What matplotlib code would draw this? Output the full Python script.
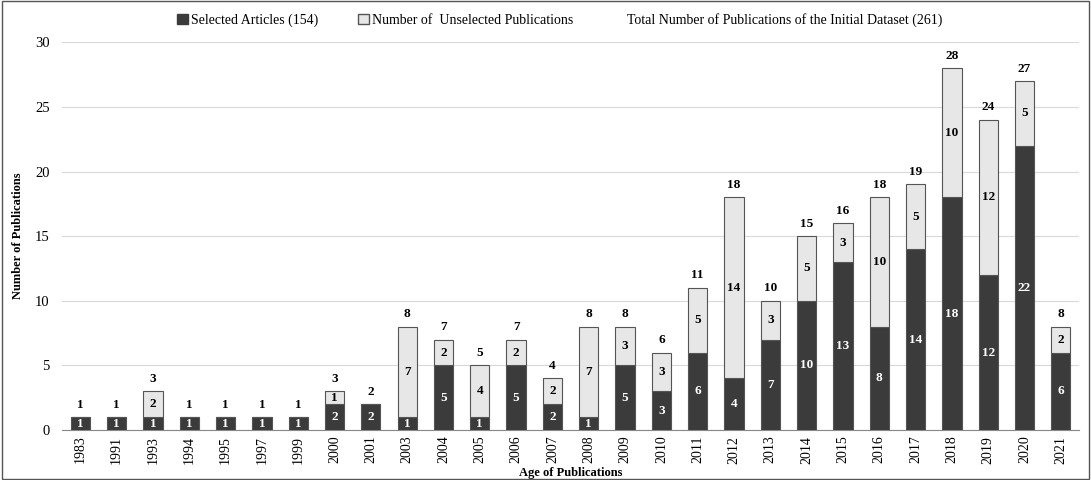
import numpy as np
import matplotlib.pyplot as plt
from matplotlib.patches import Patch, Rectangle

plt.rcParams['font.family'] = ['Liberation Serif', 'DejaVu Serif']

years = ['1983', '1991', '1993', '1994', '1995', '1997', '1999', '2000', '2001', '2003',
         '2004', '2005', '2006', '2007', '2008', '2009', '2010', '2011', '2012', '2013',
         '2014', '2015', '2016', '2017', '2018', '2019', '2020', '2021']
selected = [1, 1, 1, 1, 1, 1, 1, 2, 2, 1, 5, 1, 5, 2, 1, 5, 3, 6, 4, 7, 10, 13, 8, 14, 18, 12, 22, 6]
unselected = [0, 0, 2, 0, 0, 0, 0, 1, 0, 7, 2, 4, 2, 2, 7, 3, 3, 5, 14, 3, 5, 3, 10, 5, 10, 12, 5, 2]

sel = np.array(selected)
uns = np.array(unselected)
tot = sel + uns
x = np.arange(len(years))

dark = '#3b3b3b'
light = '#e7e7e7'

fig = plt.figure(figsize=(10.91, 4.8), dpi=100)
ax = fig.add_axes([0.057, 0.104, 0.932, 0.808])

ax.bar(x, sel, width=0.53, color=dark, edgecolor='#555555', linewidth=0.8, zorder=3)
ax.bar(x, uns, width=0.53, bottom=sel, color=light, edgecolor='#555555', linewidth=0.8, zorder=3)

for i in range(len(x)):
    ax.text(x[i], sel[i] / 2, str(sel[i]), ha='center', va='center',
            color='white', fontsize=9.5, fontweight='bold', zorder=4)
    if uns[i] > 0:
        ax.text(x[i], sel[i] + uns[i] / 2, str(uns[i]), ha='center', va='center',
                color='black', fontsize=9.5, fontweight='bold', zorder=4)
    ax.text(x[i], tot[i] + 0.5, str(tot[i]), ha='center', va='bottom',
            color='black', fontsize=9.5, fontweight='bold', zorder=4)

ax.set_xlim(-0.5, len(x) - 0.5)
ax.set_ylim(0, 30)
ax.set_yticks([0, 5, 10, 15, 20, 25, 30])
ax.set_xticks(x)
ax.set_xticklabels(years, rotation=90, fontsize=10)
ax.tick_params(axis='y', labelsize=10.5, length=0, pad=9)
ax.tick_params(axis='x', length=0, pad=4)
ax.yaxis.grid(True, color='#d9d9d9', linewidth=0.8, zorder=0)
ax.set_axisbelow(True)
for s in ['top', 'right', 'left']:
    ax.spines[s].set_visible(False)
ax.spines['bottom'].set_color('#888888')

ax.set_xlabel('Age of Publications', fontsize=9, fontweight='bold')
ax.xaxis.set_label_coords(0.5, -0.094)
ax.set_ylabel('Number of Publications', fontsize=9, fontweight='bold', labelpad=8)

handles = [Patch(facecolor=dark, edgecolor=dark),
           Patch(facecolor=light, edgecolor='#555555'),
           Patch(facecolor='none', edgecolor='none')]
labels = ['Selected Articles (154)', 'Number of  Unselected Publications',
          'Total Number of Publications of the Initial Dataset (261)']
fig.legend(handles, labels, loc='center', bbox_to_anchor=(0.513, 0.958), ncol=3,
           frameon=False, fontsize=10, handlelength=0.8, handleheight=0.8,
           handletextpad=0.2, columnspacing=2.9)

fig.patches.append(Rectangle((0.002, 0.003), 0.996, 0.994, transform=fig.transFigure,
                             fill=False, edgecolor='#555555', linewidth=1))

fig.savefig('out.png', dpi=100)
